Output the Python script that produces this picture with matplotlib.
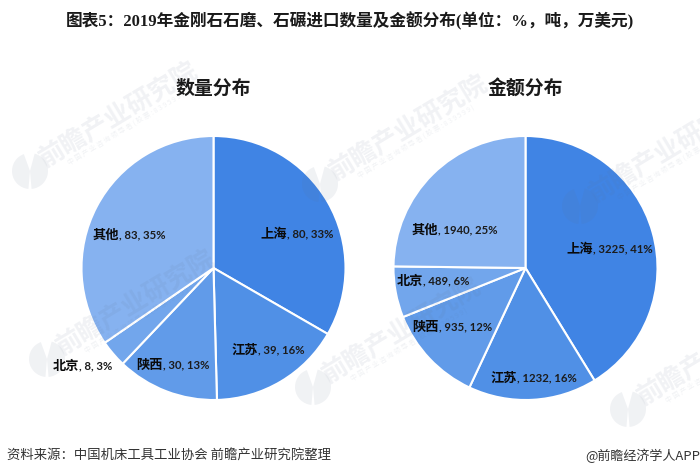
import matplotlib
matplotlib.use("Agg")
from matplotlib import pyplot as plt
from matplotlib.patches import Wedge

plt.rcParams['font.family'] = ['Noto Sans CJK SC', 'DejaVu Sans']

W = 700
H = 477

regions = ["上海", "江苏", "陕西", "北京", "其他"]
qty_values = [80, 39, 30, 8, 83]
qty_pct = [33, 16, 13, 3, 35]
amt_values = [3225, 1232, 935, 489, 1940]
amt_pct = [41, 16, 12, 6, 25]
colors = ["#4084e4", "#5090e6", "#619be9", "#72a6ec", "#86b2f0"]

title = "图表5：2019年金刚石石磨、石碾进口数量及金额分布(单位：%，吨，万美元)"
source = "资料来源：中国机床工具工业协会 前瞻产业研究院整理"
credit = "@前瞻经济学人APP"
wm_name = "前瞻产业研究院"
wm_sub = "中 国 产 业 咨 询 领 导 者 ( 股 票 : 8 3 9 5 9 9 )"

# where name and number meet in each label, pixels
qty_label_pos = [(287, 234), (258, 350), (163, 365), (79, 366), (119, 235)]
amt_label_pos = [(593, 249), (517, 378), (439, 327), (423, 281), (438, 230)]
# watermark logo centres, pixels
logo_pos = [(30, 172), (320, 185), (580, 207), (47, 360), (313, 388), (628, 410)]

fig = plt.figure(figsize=(W / 100, H / 100), dpi=100)


def draw_pie(cx, cy, r, values):
    ax = fig.add_axes([(cx - r) / W, 1 - (cy + r) / H, 2 * r / W, 2 * r / H])
    ax.pie(values, colors=colors, startangle=90, counterclock=False, radius=1,
           wedgeprops={"edgecolor": "white", "linewidth": 1.5})
    ax.set_xlim(-1, 1)
    ax.set_ylim(-1, 1)


draw_pie(213.5, 269, 132, qty_values)
draw_pie(525.5, 269, 132, amt_values)

# everything above the pies goes on one layer in pixel coords
top = fig.add_axes([0, 0, 1, 1])
top.set_xlim(0, W)
top.set_ylim(H, 0)
top.axis("off")
top.patch.set_alpha(0)

wm_color = "#5f708c"
wm_alpha = 0.09
for x, y in logo_pos:
    top.add_patch(Wedge((x, y), 18, 95, 250, color=wm_color, alpha=wm_alpha, lw=0))
    top.add_patch(Wedge((x, y), 18, -75, 85, color=wm_color, alpha=wm_alpha, lw=0))
    top.text(x + 89, y - 57, wm_name, color=wm_color, alpha=wm_alpha, fontsize=18.5,
             fontweight="bold", rotation=31, rotation_mode="anchor", ha="center", va="center")
    top.text(x + 96, y - 44, wm_sub, color=wm_color, alpha=wm_alpha, fontsize=5,
             rotation=31, rotation_mode="anchor", ha="center", va="center")


def draw_labels(positions, values, pct):
    for name, v, p, (x, y) in zip(regions, values, pct, positions):
        top.text(x, y, name, fontsize=9.5, fontweight="bold", color="#0a0a0a",
                 ha="right", va="center")
        top.text(x, y, ", {}, {}%".format(v, p), fontsize=8.2, fontweight="bold",
                 color="#1c1c1c", ha="left", va="center", family=["Lato", "DejaVu Sans"])


draw_labels(qty_label_pos, qty_values, qty_pct)
draw_labels(amt_label_pos, amt_values, amt_pct)

top.text(349.5, 21, title, fontsize=12, fontweight="bold", color="#1a1a1a", ha="center", va="center",
         family=["Liberation Serif", "Noto Sans CJK SC"])
top.text(213, 88, "数量分布", fontsize=13.6, fontweight="bold", color="#1a1a1a", ha="center", va="center")
top.text(525, 88, "金额分布", fontsize=13.6, fontweight="bold", color="#1a1a1a", ha="center", va="center")
top.text(7, 456, source, fontsize=9.6, color="#333333", ha="left", va="center")
top.text(700, 456, credit, fontsize=9.4, color="#333333", ha="right", va="center")

fig.savefig("out.png", dpi=100, facecolor="white")
